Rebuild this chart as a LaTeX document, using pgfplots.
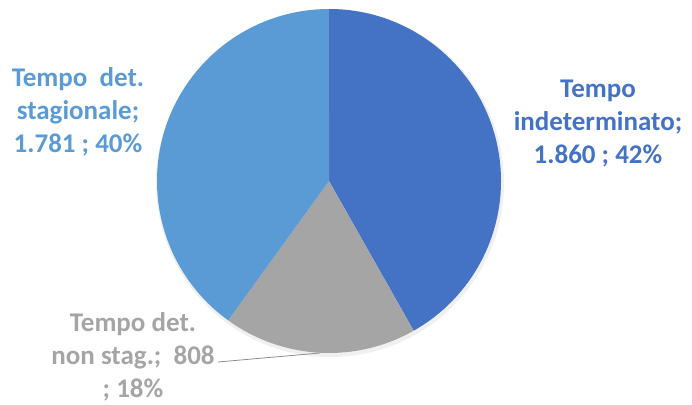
\documentclass[border=0pt]{standalone}
\usepackage{pgfplots}
\pgfplotsset{compat=1.18}
\usepackage{fontspec}
\setmainfont{Carlito}
\definecolor{cIndet}{HTML}{4472C4}
\definecolor{cNonst}{HTML}{A5A5A5}
\definecolor{cStag}{HTML}{5B9BD5}
% values
\def\vIndet{1860}
\def\vNonst{808}
\def\vStag{1781}
\begin{document}
\begin{tikzpicture}
\begin{axis}[
    width=692pt, height=404pt, scale only axis,
    xmin=0, xmax=692, ymin=0, ymax=404,
    hide axis, clip=false,
  ]
  \pgfmathsetmacro{\tot}{\vIndet+\vNonst+\vStag}
  \pgfmathsetmacro{\aA}{90}
  \pgfmathsetmacro{\aB}{90-360*(\vIndet/\tot)}
  \pgfmathsetmacro{\aC}{\aB-360*(\vNonst/\tot)}
  \pgfmathsetmacro{\aD}{\aC-360*(\vStag/\tot)}
  \path[use as bounding box] (axis cs:0,0) rectangle (axis cs:692,404);
  % soft shadow
  \fill[black!6] (axis cs:330,221) circle[radius=174pt];
  \fill[cIndet] (axis cs:329,223) -- +(\aA:172pt) arc[start angle=\aA, end angle=\aB, radius=172pt] -- cycle;
  \fill[cNonst] (axis cs:329,223) -- +(\aB:172pt) arc[start angle=\aB, end angle=\aC, radius=172pt] -- cycle;
  \fill[cStag] (axis cs:329,223) -- +(\aC:172pt) arc[start angle=\aC, end angle=\aD, radius=172pt] -- cycle;
  \draw[black!45, line width=0.8pt] (axis cs:218,42) -- (axis cs:320,51);
  \node[text=cIndet, font=\fontsize{27}{33}\selectfont\bfseries, align=center]
    at (axis cs:598,280) {Tempo\\indeterminato;\\1.860 ; 42\%};
  \node[text=cStag, font=\fontsize{27}{33}\selectfont\bfseries, align=center]
    at (axis cs:78,292) {Tempo\ \ det.\\stagionale;\\1.781 ; 40\%};
  \node[text=cNonst, font=\fontsize{27}{33}\selectfont\bfseries, align=center]
    at (axis cs:133,47) {Tempo det.\\non stag.;\ \ 808\\; 18\%};
\end{axis}
\end{tikzpicture}
\end{document}
